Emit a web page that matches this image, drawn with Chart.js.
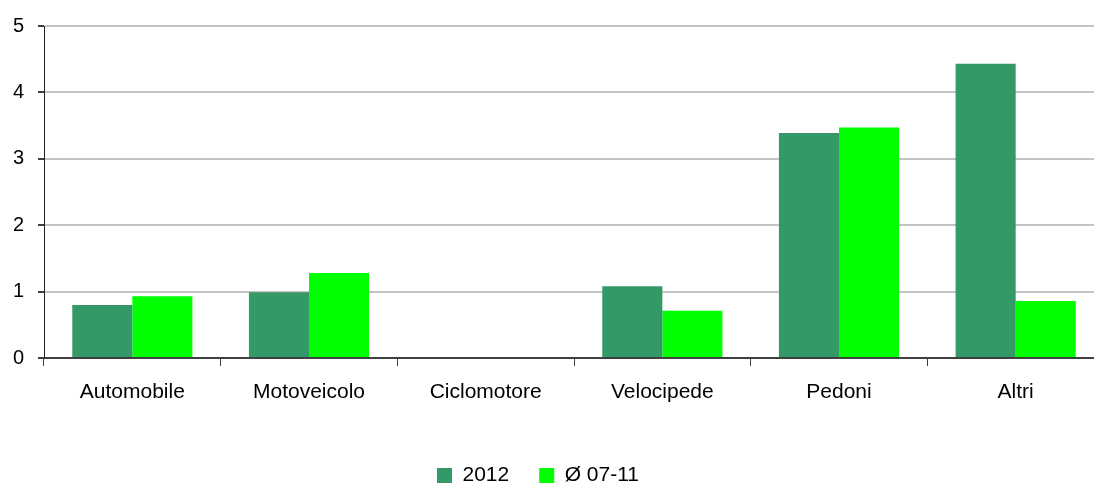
<!DOCTYPE html>
<html>
<head>
<meta charset="utf-8">
<script src="https://cdn.jsdelivr.net/npm/chart.js@4.4.1/dist/chart.umd.min.js"></script>
<style>
  html, body { margin: 0; padding: 0; background: #fff; overflow: hidden; }
  #wrap { width: 1094px; height: 484px; overflow: hidden; }
</style>
</head>
<body>
<div id="wrap"><canvas id="chart" width="1104" height="496"></canvas></div>
<script>
  var categories = ['Automobile', 'Motoveicolo', 'Ciclomotore', 'Velocipede', 'Pedoni', 'Altri'];
  var values2012 = [0.80, 0.99, 0, 1.08, 3.39, 4.43];
  var valuesAvg = [0.93, 1.28, 0, 0.71, 3.47, 0.86];
  var yTicks = [0, 1, 2, 3, 4, 5];

  Chart.defaults.font.family = '"Liberation Sans", Arial, sans-serif';
  Chart.defaults.font.size = 21;
  Chart.defaults.color = '#000';

  // the plot runs past the right edge, so nudge the legend back to the visible centre
  var legendShift = {
    id: 'legendShift',
    afterLayout: function (chart) {
      chart.legend.left -= 14;
      chart.legend.right -= 14;
    }
  };

  var ctx = document.getElementById('chart').getContext('2d');
  var chart = new Chart(ctx, {
    type: 'bar',
    data: {
      labels: categories,
      datasets: [{
        label: '2012',
        data: values2012,
        backgroundColor: '#339966',
        borderWidth: 0
      }, {
        label: 'Ø 07-11',
        data: valuesAvg,
        backgroundColor: '#00ff00',
        borderWidth: 0
      }]
    },
    options: {
      responsive: false,
      animation: false,
      categoryPercentage: 0.68,
      barPercentage: 1.0,
      layout: { padding: { top: 24, right: 0, bottom: 0, left: 0 } },
      plugins: {
        tooltip: { enabled: false },
        legend: {
          position: 'bottom',
          labels: {
            boxWidth: 15,
            boxHeight: 15,
            padding: 30,
            font: { size: 21 }
          }
        }
      },
      scales: {
        x: {
          grid: {
            offset: true,
            drawOnChartArea: false,
            tickLength: 8,
            color: '#404040',
            lineWidth: 1
          },
          border: { color: '#404040', width: 2 },
          ticks: { padding: 14, font: { size: 21 } },
          afterFit: function (scale) { scale.height = 77; }
        },
        y: {
          min: 0,
          max: 5,
          afterBuildTicks: function (scale) {
            scale.ticks = yTicks.map(function (v) { return { value: v }; });
          },
          grid: {
            color: '#c4c4c4',
            lineWidth: 2,
            tickColor: '#404040',
            tickLength: 6
          },
          border: { color: '#202020', width: 1 },
          ticks: { padding: 14, font: { size: 20 } },
          afterFit: function (scale) { scale.width = 44; }
        }
      }
    },
    plugins: [legendShift]
  });
</script>
</body>
</html>
